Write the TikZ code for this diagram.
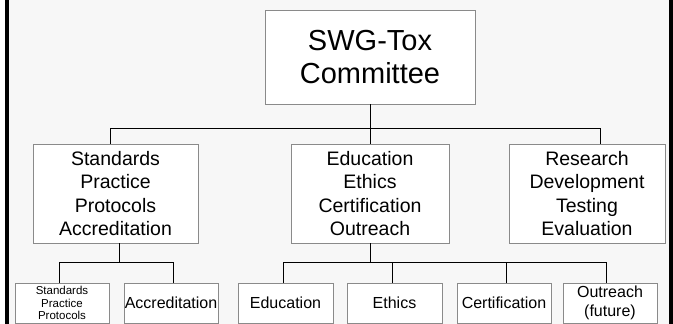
\documentclass[tikz,border=0pt]{standalone}
\usepackage{fontspec}
\setmainfont{Liberation Sans}
\usepackage{tikz}
\usetikzlibrary{positioning}
\definecolor{slide}{HTML}{F7F7F7}
\definecolor{boxline}{HTML}{8A8A8A}
\tikzset{% 
	box/.style = {draw = boxline, fill = white, align = center, inner sep = 0pt, line width = 0.9pt},
	head/.style = {box, minimum width = 210pt, minimum height = 94pt, font = \fontsize{29}{33.5}\selectfont},
	group/.style = {box, minimum width = #1, minimum height = 99pt, font = \fontsize{19.5}{23.3}\selectfont},
	unit/.style = {box, minimum width = #1, minimum height = 40pt, font = \fontsize{16}{19}\selectfont},
	tiny/.style = {font = \fontsize{11.5}{12.8}\selectfont},
	link/.style = {draw = black, line width = 0.9pt}
}

\begin{document}
\begin{tikzpicture}[x=1pt, y=-1pt]
			\useasboundingbox (0,0) rectangle (673,324);
			\clip (0,0) rectangle (673,324);
			\fill [slide] (7,0) rectangle (670,324);
			\fill [black] (5,0) rectangle (8.5,324);
			\fill [black] (669,0) rectangle (673,324);
			% top
			\node [head] (swg) at (370,57) {SWG-Tox\\Committee};
			% groups
			\node [group = 165pt] (std) at (115.5,193.5) {Standards\\Practice\\Protocols\\Accreditation};
			\node [group = 158pt] (edu) at (370,193.5) {Education\\Ethics\\Certification\\Outreach};
			\node [group = 156pt] (res) at (587,193.5) {Research\\Development\\Testing\\Evaluation};
			% units
			\node [unit = 94pt, tiny] (sop) at (62,303) {Standards\\Practice\\Protocols};
			\node [unit = 94pt] (acc) at (171,303) {Accreditation};
			\node [unit = 95pt] (educ) at (285.5,303) {Education};
			\node [unit = 95pt] (eth) at (394.5,303) {Ethics};
			\node [unit = 94pt] (cert) at (504,303) {Certification};
			\node [unit = 94pt] (out) at (610,303) {Outreach\\(future)};
			% first level
			\coordinate (busL) at (110,128);
			\coordinate (busR) at (600,128);
			\draw [link] (swg.south) -- (swg.south |- busL);
			\draw [link] (busL |- std.north) -- (busL) -- (busR) -- (busR |- res.north);
			\draw [link] (edu.north) -- (edu.north |- busL);
			% second level
			\coordinate (stdJ) at (119,262);
			\coordinate (stdL) at (59,262);
			\coordinate (stdR) at (173,262);
			\draw [link] (stdJ |- std.south) -- (stdJ);
			\draw [link] (stdL |- sop.north) -- (stdL) -- (stdR) -- (stdR |- acc.north);
			\coordinate (eduL) at (283,262);
			\coordinate (eduB) at (392,262);
			\coordinate (eduC) at (506,262);
			\coordinate (eduR) at (606,262);
			\draw [link] (edu.south) -- (edu.south |- eduL);
			\draw [link] (eduL |- educ.north) -- (eduL) -- (eduR) -- (eduR |- out.north);
			\draw [link] (eduB) -- (eduB |- eth.north);
			\draw [link] (eduC) -- (eduC |- cert.north);
\end{tikzpicture}
\end{document}
